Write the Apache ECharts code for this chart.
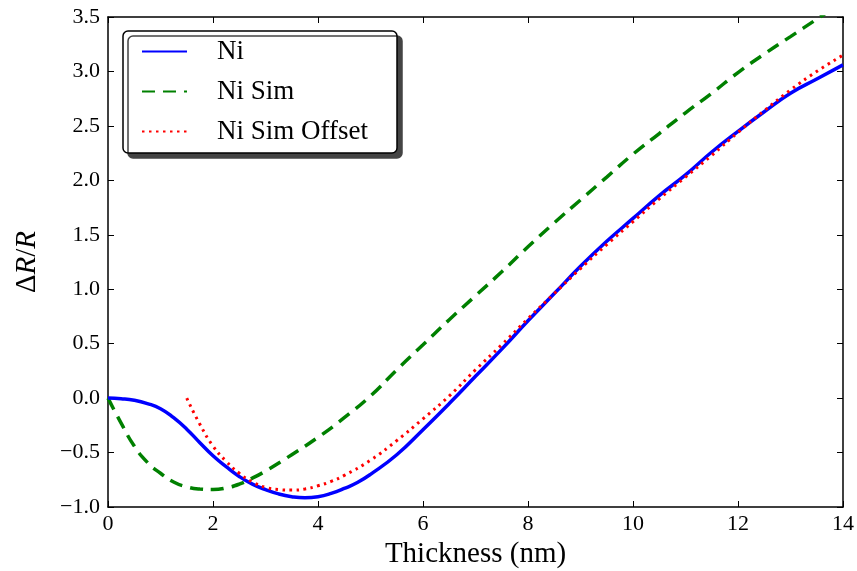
<!DOCTYPE html>
<html>
<head>
<meta charset="utf-8">
<script src="https://cdn.jsdelivr.net/npm/echarts@6/dist/echarts.min.js"></script>
<style>html,body{margin:0;padding:0;background:#fff}#c{width:857px;height:571px}</style>
</head>
<body>
<div id="c"></div>
<script>
const niX = [0,0.25,0.5,0.75,1,1.25,1.5,1.75,2,2.25,2.5,2.75,3,3.25,3.5,3.75,4,4.25,4.5,4.75,5,5.5,6,6.5,7,7.5,8,8.5,9,9.5,10,10.5,11,11.5,12,12.5,13,13.5,14];
const niY = [0,-0.006,-0.02,-0.05,-0.097,-0.18,-0.285,-0.41,-0.53,-0.63,-0.72,-0.79,-0.84,-0.88,-0.905,-0.915,-0.905,-0.875,-0.83,-0.775,-0.70,-0.52,-0.29,-0.05,0.2,0.45,0.71,0.96,1.21,1.44,1.65,1.86,2.05,2.26,2.45,2.63,2.80,2.93,3.06];
const simX = [0,0.25,0.5,0.75,1,1.25,1.5,1.75,2,2.25,2.5,2.75,3,3.5,4,4.5,5,5.5,6,6.5,7,7.5,8,8.5,9,9.5,10,10.5,11,11.5,12,12.5,13,13.5,14];
const simY = [0,-0.23,-0.44,-0.59,-0.69,-0.77,-0.815,-0.835,-0.84,-0.825,-0.79,-0.735,-0.67,-0.52,-0.36,-0.18,0.02,0.26,0.49,0.72,0.94,1.16,1.39,1.61,1.82,2.03,2.24,2.43,2.62,2.80,2.99,3.16,3.32,3.48,3.64];
const offX = [1.5,1.75,2,2.25,2.5,2.75,3,3.25,3.5,3.75,4,4.25,4.5,5,5.5,6,6.5,7,7.5,8,8.5,9,9.5,10,10.5,11,11.5,12,12.5,13,13.5,14];
const offY = [0,-0.24,-0.44,-0.58,-0.69,-0.77,-0.82,-0.84,-0.845,-0.835,-0.805,-0.765,-0.71,-0.57,-0.39,-0.19,0.02,0.26,0.49,0.73,0.96,1.19,1.41,1.62,1.83,2.03,2.23,2.44,2.64,2.83,3.0,3.15];
const seriesNames = ['Ni','Ni Sim','Ni Sim Offset'];
const xTitle = 'Thickness (nm)';

const zip = (xs, ys) => xs.map((x, i) => [x, ys[i]]);
const font = 'Liberation Serif';
const minus = v => String(v).replace('-', '\u2212');

const chart = echarts.init(document.getElementById('c'));
const axLine = {show: true, onZero: false, lineStyle: {color: '#000', width: 1.5}};
const ticks = {show: true, inside: true, length: 6, lineStyle: {color: '#000', width: 1}};
chart.setOption({
  backgroundColor: '#fff',
  animation: false,
  grid: {left: 108, right: 14, top: 17, bottom: 64, containLabel: false, outerBoundsMode: 'none'},
  legend: {
    left: 123, top: 31, orient: 'vertical',
    data: seriesNames,
    itemWidth: 45, itemHeight: 14, itemGap: 13,
    padding: [7, 29, 8, 18],
    itemStyle: {opacity: 0},
    backgroundColor: '#fff', borderColor: '#000', borderWidth: 1.5, borderRadius: 5,
    shadowColor: '#444', shadowBlur: 0, shadowOffsetX: 5, shadowOffsetY: 5,
    textStyle: {fontFamily: font, fontSize: 27, color: '#000', lineHeight: 27, padding: [0, 0, 0, 25]}
  },
  xAxis: [{
    type: 'value', min: 0, max: 14, interval: 2, position: 'bottom',
    name: xTitle, nameLocation: 'middle', nameGap: 29,
    nameTextStyle: {fontFamily: font, fontSize: 29, color: '#000'},
    axisLine: axLine, axisTick: ticks, splitLine: {show: false},
    axisLabel: {fontFamily: font, fontSize: 22, color: '#000', margin: 6, formatter: minus}
  }, {
    type: 'value', min: 0, max: 14, interval: 2, position: 'top',
    axisLine: axLine, axisTick: ticks, splitLine: {show: false}, axisLabel: {show: false}
  }],
  yAxis: [{
    type: 'value', min: -1, max: 3.5, interval: 0.5, position: 'left',
    name: '{a|\u0394}{b|R}{a|/}{b|R}', nameLocation: 'middle', nameGap: 66, nameRotate: 90,
    nameTextStyle: {rich: {
      a: {fontFamily: font, fontSize: 29, color: '#000'},
      b: {fontFamily: font, fontSize: 29, color: '#000', fontStyle: 'italic'}
    }},
    axisLine: axLine, axisTick: ticks, splitLine: {show: false},
    axisLabel: {fontFamily: font, fontSize: 22, color: '#000', margin: 8,
      formatter: v => minus(v.toFixed(1))}
  }, {
    type: 'value', min: -1, max: 3.5, interval: 0.5, position: 'right',
    axisLine: axLine, axisTick: ticks, splitLine: {show: false}, axisLabel: {show: false}
  }],
  series: [{
    name: seriesNames[0], type: 'line', data: zip(niX, niY), symbol: 'none', smooth: 0.5,
    lineStyle: {color: '#0000ff', width: 3.5}, itemStyle: {color: '#0000ff'}, z: 3
  }, {
    name: seriesNames[1], type: 'line', data: zip(simX, simY), symbol: 'none', smooth: 0.5,
    lineStyle: {color: '#008000', width: 3.5, type: [13, 8]}, itemStyle: {color: '#008000'}, z: 2
  }, {
    name: seriesNames[2], type: 'line', data: zip(offX, offY), symbol: 'none', smooth: 0.5,
    lineStyle: {color: '#ff0000', width: 3, type: [2.5, 4.5]}, itemStyle: {color: '#ff0000'}, z: 4
  }]
});
</script>
</body>
</html>
